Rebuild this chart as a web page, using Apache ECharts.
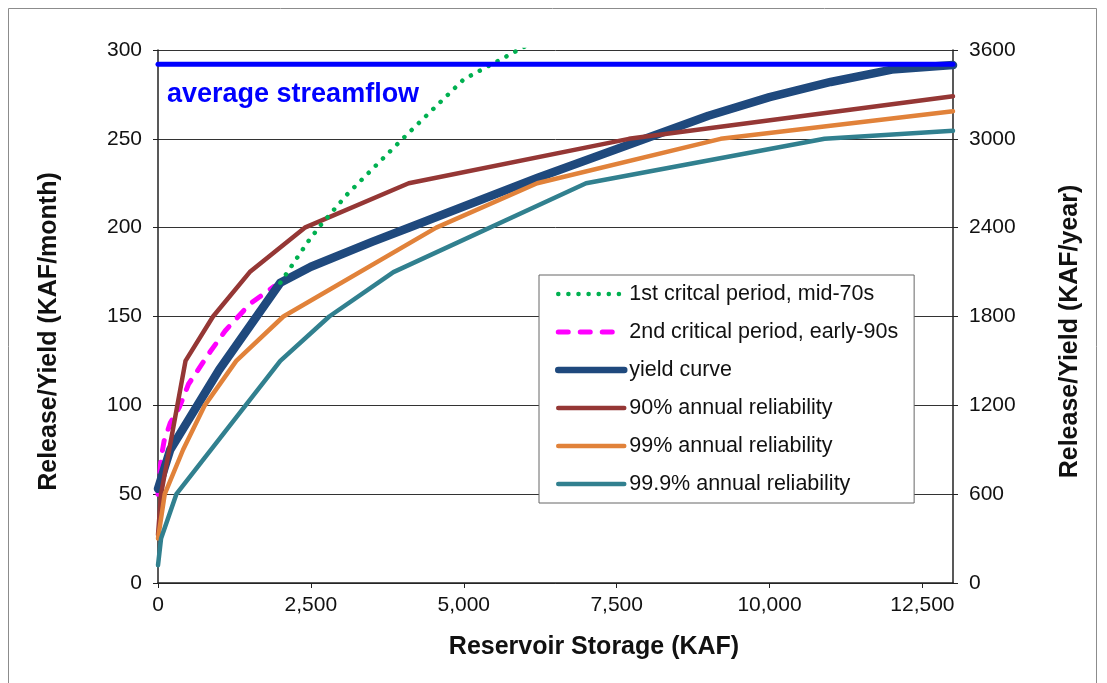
<!DOCTYPE html>
<html>
<head>
<meta charset="utf-8">
<script src="https://cdn.jsdelivr.net/npm/echarts@6/dist/echarts.min.js"></script>
<style>
  html, body { margin: 0; padding: 0; background: #fff; }
  #chart { width: 1107px; height: 683px; }
</style>
</head>
<body>
<div id="chart"></div>
<script>
// values (storage in KAF, release in KAF/month)
const critical1X = [2000, 2450, 2650, 3100, 4000, 5000, 6000]
const critical1Y = [169, 192, 201, 219, 250, 283.5, 302]

const critical2X = [0, 50, 100, 200, 350, 500, 850, 1100, 1500, 1900]
const critical2Y = [50, 70, 80, 90, 99, 112, 130, 142, 157, 167]

const yieldX = [0, 200, 1000, 2000, 2500, 3500, 4100, 6200, 9000, 10000, 11000, 12000, 13000]
const yieldY = [53, 75, 120, 169, 178, 192, 200, 228, 263, 273.5, 282, 289, 291.5]

const rel90X = [0, 50, 450, 900, 1500, 2400, 4100, 7700, 13000]
const rel90Y = [27, 50, 125, 150, 175, 200, 225, 250, 274]

const rel99X = [0, 110, 410, 765, 1280, 2050, 4550, 6200, 9200, 13000]
const rel99Y = [25, 50, 75, 100, 125, 150, 200, 225, 250, 265.5]

const rel999X = [0, 50, 300, 2000, 2800, 3850, 7000, 10900, 13000]
const rel999Y = [10, 25, 50, 125, 150, 175, 225, 250, 254.5]

const avgFlowX = [0, 13000]
const avgFlowY = [292, 292]

const names = [
  '1st critcal period, mid-70s',
  '2nd critical period, early-90s',
  'yield curve',
  '90% annual reliability',
  '99% annual reliability',
  '99.9% annual reliability'
]

const zip = (xs, ys) => xs.map((x, i) => [x, ys[i]])

const FONT = 'Liberation Sans, Arial, sans-serif'

const lineSeries = (name, xs, ys, color, width, type, z) => ({
  name,
  type: 'line',
  data: zip(xs, ys),
  symbol: 'none',
  clip: true,
  z,
  lineStyle: { color, width, type: type || 'solid', cap: 'round', join: 'round' },
  itemStyle: { color }
})

// legend samples: plain lines, no symbol
const legendItem = (name, width, type) => ({
  name,
  lineStyle: { width, type: type || 'solid', cap: 'round' }
})

const chart = echarts.init(document.getElementById('chart'))

const option = {
  backgroundColor: '#fff',
  animation: false,
  textStyle: { fontFamily: FONT },
  title: {
    text: 'average streamflow',
    left: 167,
    top: 81,
    padding: 0,
    textStyle: { color: '#0000ff', fontSize: 27, fontWeight: 'bold', fontFamily: FONT }
  },
  graphic: [{
    type: 'rect',
    shape: { x: 8.5, y: 8.5, width: 1088, height: 690 },
    style: { fill: null, stroke: '#8c8c8c', lineWidth: 1 },
    silent: true
  }],
  grid: { left: 158, right: 154, top: 50, bottom: 100 },
  legend: {
    data: [
      legendItem(names[0], 4.5, [0.1, 10]),
      legendItem(names[1], 5, [10, 12]),
      legendItem(names[2], 6.5),
      legendItem(names[3], 4.5),
      legendItem(names[4], 4.5),
      legendItem(names[5], 4.5)
    ],
    orient: 'vertical',
    left: 539,
    top: 275,
    padding: [7, 16, 7, 16],
    itemWidth: 66,
    itemHeight: 12,
    itemGap: 14,
    itemStyle: { opacity: 0 },
    backgroundColor: '#fff',
    borderColor: '#666',
    borderWidth: 1,
    textStyle: { fontSize: 21.5, lineHeight: 24, color: '#111', fontFamily: FONT }
  },
  xAxis: {
    type: 'value',
    min: 0,
    max: 13000,
    interval: 2500,
    name: 'Reservoir Storage (KAF)',
    nameLocation: 'middle',
    nameGap: 52,
    nameTextStyle: { fontSize: 25, fontWeight: 'bold', color: '#111', padding: [0, 0, 0, 77] },
    axisLine: { lineStyle: { color: '#222', width: 1.5 } },
    axisTick: { length: 5, lineStyle: { color: '#222' } },
    axisLabel: {
      fontSize: 21,
      color: '#111',
      margin: 12,
      showMaxLabel: false,
      formatter: v => v.toLocaleString('en-US')
    },
    splitLine: { show: false }
  },
  yAxis: [{
    type: 'value',
    min: 0,
    max: 300,
    interval: 50,
    name: 'Release/Yield (KAF/month)',
    nameLocation: 'middle',
    nameRotate: 90,
    nameGap: 96,
    nameTextStyle: { fontSize: 25, fontWeight: 'bold', color: '#111', padding: [0, 30, 0, 0] },
    axisLine: { show: true, lineStyle: { color: '#222', width: 1.5 } },
    axisTick: { show: true, length: 5, lineStyle: { color: '#222' } },
    axisLabel: { fontSize: 21, color: '#111', margin: 16 },
    splitLine: { show: true, lineStyle: { color: '#333', width: 1 } }
  }, {
    type: 'value',
    min: 0,
    max: 3600,
    interval: 600,
    position: 'right',
    name: 'Release/Yield (KAF/year)',
    nameLocation: 'middle',
    nameRotate: 90,
    nameGap: 105,
    nameTextStyle: { fontSize: 25, fontWeight: 'bold', color: '#111', padding: [0, 30, 0, 0] },
    axisLine: { show: true, lineStyle: { color: '#222', width: 1.5 } },
    axisTick: { show: true, length: 5, lineStyle: { color: '#222' } },
    axisLabel: { fontSize: 21, color: '#111', margin: 16, formatter: v => String(v) },
    splitLine: { show: false }
  }],
  series: [
    lineSeries(names[1], critical2X, critical2Y, '#ff00ff', 5, [10, 12], 2),
    lineSeries(names[2], yieldX, yieldY, '#1f497d', 8.5, null, 3),
    lineSeries(names[3], rel90X, rel90Y, '#953735', 4.5, null, 4),
    lineSeries(names[4], rel99X, rel99Y, '#e1823a', 4.5, null, 5),
    lineSeries(names[5], rel999X, rel999Y, '#31808f', 4.5, null, 6),
    lineSeries(names[0], critical1X, critical1Y, '#00b050', 4.5, [0.1, 10], 7),
    lineSeries('average streamflow', avgFlowX, avgFlowY, '#0000ff', 5, null, 8)
  ]
}

chart.setOption(option)
</script>
</body>
</html>
